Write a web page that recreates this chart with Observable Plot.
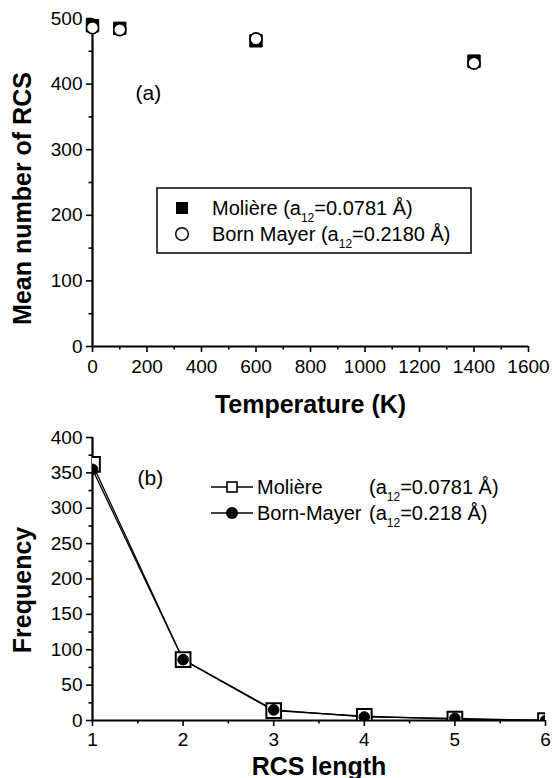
<!DOCTYPE html>
<html><head><meta charset="utf-8">
<script src="https://cdn.jsdelivr.net/npm/d3@7"></script>
<script src="https://cdn.jsdelivr.net/npm/@observablehq/plot@0.6"></script>
<style>
html,body{margin:0;padding:0;background:#fff;}
#wrap{position:relative;width:553px;height:778px;overflow:hidden;background:#fff;}
#wrap svg{position:absolute;left:0;overflow:visible;}
</style></head><body><div id="wrap"></div>
<script>
// ---- data (panel a) ----
const temperatures = [0, 100, 600, 1400];
const moliereMean = [489, 485, 466, 435];
const bornMayerMean = [486, 483, 469, 432];
const tempTicks = [0, 200, 400, 600, 800, 1000, 1200, 1400, 1600];
const tempMinorTicks = [100, 300, 500, 700, 900, 1100, 1300, 1500];
const meanTicks = [0, 100, 200, 300, 400, 500];
const meanMinorTicks = [50, 150, 250, 350, 450];
// ---- data (panel b) ----
const rcsLengths = [1, 2, 3, 4, 5, 6];
const moliereFreq = [362, 86, 14, 6, 2, 0];
const bornMayerFreq = [355, 86, 15, 5, 3, 0];
const lengthTicks = [1, 2, 3, 4, 5, 6];
const lengthMinorTicks = [1.5, 2.5, 3.5, 4.5, 5.5];
const freqTicks = [0, 50, 100, 150, 200, 250, 300, 350, 400];
const freqMinorTicks = [25, 75, 125, 175, 225, 275, 325, 375];

const font = '"Liberation Sans", Arial, Helvetica, sans-serif';
const wrap = document.getElementById("wrap");

const meanM = temperatures.map((t, i) => ({t, v: moliereMean[i]}));
const meanB = temperatures.map((t, i) => ({t, v: bornMayerMean[i]}));

const topPlot = Plot.plot({
  width: 553, height: 420,
  marginLeft: 92, marginRight: 25, marginTop: 18, marginBottom: 74,
  x: {domain: [0, 1600]},
  y: {domain: [0, 500]},
  style: {fontFamily: font, fontSize: "19px", color: "black", background: "white", overflow: "visible"},
  marks: [
    Plot.axisX({ticks: tempTicks, tickSize: 6, tickPadding: 7, strokeWidth: 1.6, label: null, tickFormat: d => String(d)}),
    Plot.axisX({ticks: tempMinorTicks, tickSize: 3.5, strokeWidth: 1.6, text: null, label: null}),
    Plot.axisY({ticks: meanTicks, tickSize: 6, tickPadding: 4, strokeWidth: 1.6, label: null, tickFormat: d => String(d)}),
    Plot.axisY({ticks: meanMinorTicks, tickSize: 3.5, strokeWidth: 1.6, text: null, label: null}),
    Plot.ruleX([0], {strokeWidth: 2.2}),
    Plot.ruleY([0], {strokeWidth: 2.2}),
    Plot.dot(meanM, {x: "t", y: "v", symbol: "square", r: 7, fill: "black", stroke: "black", strokeWidth: 1}),
    Plot.dot(meanB, {x: "t", y: "v", symbol: "circle", r: 6, fill: "white", stroke: "black", strokeWidth: 1.6}),
    Plot.text(["Temperature (K)"], {text: d => d, frameAnchor: "bottom", dy: 58, textAnchor: "middle", lineAnchor: "middle", fontSize: 25, fontWeight: "bold"}),
    Plot.text(["Mean number of RCS"], {text: d => d, frameAnchor: "left", dx: -70, dy: 16, rotate: -90, textAnchor: "middle", lineAnchor: "middle", fontSize: 25, fontWeight: "bold"}),
    Plot.text(["(a)"], {text: d => d, frameAnchor: "top-left", dx: 43, dy: 75, textAnchor: "start", lineAnchor: "middle", fontSize: 21})
  ]
});
topPlot.style.top = "0px";
wrap.appendChild(topPlot);

const freqM = rcsLengths.map((l, i) => ({l, v: moliereFreq[i]}));
const freqB = rcsLengths.map((l, i) => ({l, v: bornMayerFreq[i]}));

const botPlot = Plot.plot({
  width: 553, height: 358,
  marginLeft: 92, marginRight: 8, marginTop: 17, marginBottom: 58,
  x: {domain: [1, 6]},
  y: {domain: [0, 400]},
  style: {fontFamily: font, fontSize: "19px", color: "black", background: "white", overflow: "visible"},
  marks: [
    Plot.axisX({ticks: lengthTicks, tickSize: 6, tickPadding: 6, strokeWidth: 1.6, label: null, tickFormat: d => String(d)}),
    Plot.axisX({ticks: lengthMinorTicks, tickSize: 3.5, strokeWidth: 1.6, text: null, label: null}),
    Plot.axisY({ticks: freqTicks, tickSize: 6, tickPadding: 4, strokeWidth: 1.6, label: null, tickFormat: d => String(d)}),
    Plot.axisY({ticks: freqMinorTicks, tickSize: 3.5, strokeWidth: 1.6, text: null, label: null}),
    Plot.line(freqM, {x: "l", y: "v", stroke: "black", strokeWidth: 1.3, clip: true}),
    Plot.line(freqB, {x: "l", y: "v", stroke: "black", strokeWidth: 1.3, clip: true}),
    Plot.ruleX([1], {strokeWidth: 2.2}),
    Plot.ruleY([0], {strokeWidth: 2.2}),
    Plot.dot(freqM, {x: "l", y: "v", symbol: "square", r: 8.3, fill: "white", stroke: "black", strokeWidth: 2, clip: true}),
    Plot.dot(freqB, {x: "l", y: "v", symbol: "circle", r: 5.3, fill: "black", stroke: "black", strokeWidth: 1, clip: true}),
    Plot.text(["RCS length"], {text: d => d, frameAnchor: "bottom", dy: 46, textAnchor: "middle", lineAnchor: "middle", fontSize: 25, fontWeight: "bold"}),
    Plot.text(["Frequency"], {text: d => d, frameAnchor: "left", dx: -70, dy: 11, rotate: -90, textAnchor: "middle", lineAnchor: "middle", fontSize: 25, fontWeight: "bold"}),
    Plot.text(["(b)"], {text: d => d, frameAnchor: "top-left", dx: 45, dy: 41, textAnchor: "start", lineAnchor: "middle", fontSize: 21})
  ]
});
botPlot.style.top = "420px";
wrap.appendChild(botPlot);

// ---- legends (overlay) ----
const ov = d3.select(wrap).append("svg")
  .attr("width", 553).attr("height", 778)
  .style("top", "0px")
  .style("font-family", font).style("font-size", "20px");

function legendText(g, x, y, name, value, valueX) {
  const t = g.append("text").attr("x", x).attr("y", y).attr("fill", "black");
  if (valueX == null) {
    t.append("tspan").text(name + " (a");
  } else {
    t.append("tspan").text(name);
    t.append("tspan").attr("x", valueX).text("(a");
  }
  t.append("tspan").attr("dy", 7).style("font-size", "12px").text("12");
  t.append("tspan").attr("dy", -7).text("=" + value + " Å)");
}

// panel a legend box
const la = ov.append("g");
la.append("rect").attr("x", 157).attr("y", 188).attr("width", 314).attr("height", 65)
  .attr("fill", "white").attr("stroke", "black").attr("stroke-width", 1.5);
la.append("rect").attr("x", 176).attr("y", 202).attr("width", 12).attr("height", 12).attr("fill", "black");
la.append("circle").attr("cx", 182).attr("cy", 234).attr("r", 6.3).attr("fill", "white").attr("stroke", "black").attr("stroke-width", 1.5);
legendText(la, 212, 215, "Molière", "0.0781");
legendText(la, 212, 241, "Born Mayer", "0.2180");

// panel b legend
const lb = ov.append("g");
lb.append("line").attr("x1", 211).attr("x2", 253).attr("y1", 487).attr("y2", 487).attr("stroke", "black").attr("stroke-width", 1.3);
lb.append("rect").attr("x", 227).attr("y", 482).attr("width", 10).attr("height", 10).attr("fill", "white").attr("stroke", "black").attr("stroke-width", 1.6);
lb.append("line").attr("x1", 211).attr("x2", 253).attr("y1", 513).attr("y2", 513).attr("stroke", "black").attr("stroke-width", 1.3);
lb.append("circle").attr("cx", 232).attr("cy", 513).attr("r", 6).attr("fill", "black");
legendText(lb, 257, 494, "Molière", "0.0781", 369);
legendText(lb, 257, 520, "Born-Mayer", "0.218", 369);
</script>
</body></html>
